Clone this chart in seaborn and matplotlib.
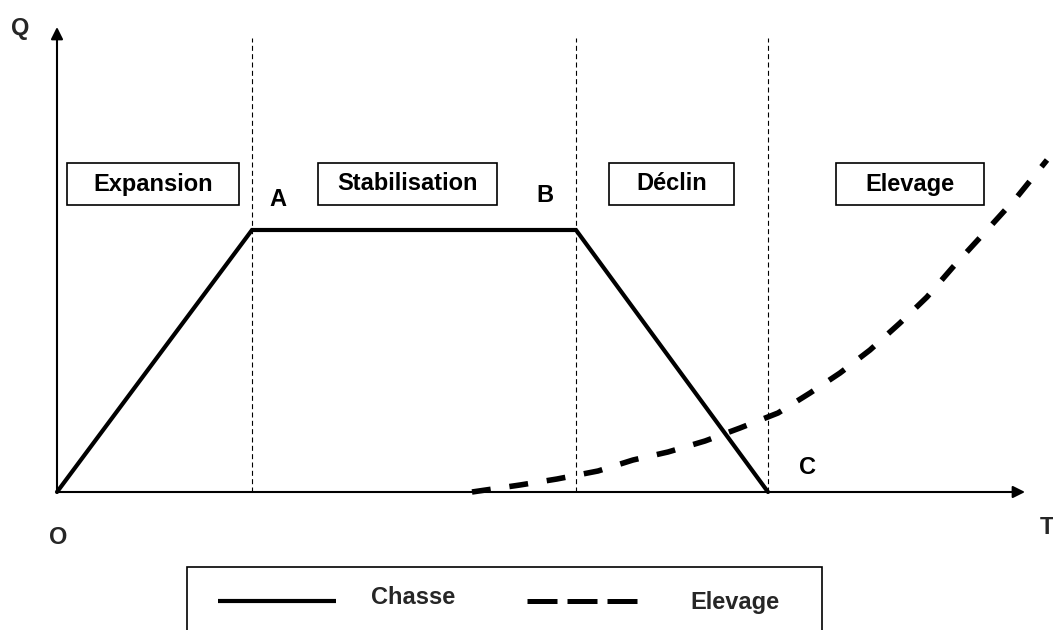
import matplotlib
matplotlib.use("Agg")
import matplotlib.pyplot as plt
from matplotlib.patches import Rectangle
import seaborn as sns
import pandas as pd

# ---------------- data ----------------
T_CHASSE = [0, 195, 519, 711]
Q_CHASSE = [0, 262, 262, 0]

T_ELEVAGE = [415, 463, 500, 541, 576, 611, 648, 683, 721, 753, 783, 813, 843, 870, 896, 930, 960, 990]
Q_ELEVAGE = [0, 7, 13, 21, 32, 40, 51, 64, 79, 99, 119, 142, 169, 195, 225, 262, 295, 332]

PHASE_NAMES = ["Expansion", "Stabilisation", "Déclin", "Elevage"]
PHASE_BOUNDS = [195, 519, 711]
POINT_LABELS = ["A", "B", "C"]
LEGEND_LABELS = ["Chasse", "Elevage"]
AXIS_LABELS = ["Q", "T", "O"]

# ---------------- style ----------------
sns.set_theme(style="white")
plt.rcParams["font.family"] = ["Liberation Sans", "DejaVu Sans"]
plt.rcParams["font.weight"] = "bold"

fig = plt.figure(figsize=(10.53, 6.3), dpi=100)
ax = fig.add_axes([0, 0, 1, 1])
ax.set_xlim(-57, 996)
ax.set_ylim(-138, 492)
ax.axis("off")

df_c = pd.DataFrame({"T": T_CHASSE, "Q": Q_CHASSE})
df_e = pd.DataFrame({"T": T_ELEVAGE, "Q": Q_ELEVAGE})

# phase dividers
for xb in PHASE_BOUNDS:
    ax.plot([xb, xb], [0, 454], color="black", lw=0.8, linestyle=(0, (4.5, 3)), zorder=1)

# axes arrows
arrow_kw = dict(arrowstyle="-|>", color="black", lw=1.5, mutation_scale=18, shrinkA=0, shrinkB=0)
ax.annotate("", xy=(968, 0), xytext=(0, 0), arrowprops=arrow_kw, zorder=2)
ax.annotate("", xy=(0, 465), xytext=(0, 0), arrowprops=arrow_kw, zorder=2)

# series
sns.lineplot(data=df_c, x="T", y="Q", ax=ax, color="black", lw=3.0,
             solid_joinstyle="miter", zorder=4, legend=False)
sns.lineplot(data=df_e, x="T", y="Q", ax=ax, color="black", lw=4.0,
             linestyle=(0, (3.4, 3.4)), zorder=4, legend=False)
ax.set_xlabel("")
ax.set_ylabel("")

# phase boxes
box_x = [(10, 182), (261, 440), (552, 677), (779, 927)]
for name, (x0, x1) in zip(PHASE_NAMES, box_x):
    ax.add_patch(Rectangle((x0, 287), x1 - x0, 42, fill=False, edgecolor="black", lw=1.2, zorder=3))
    ax.text((x0 + x1) / 2, 308, name, ha="center", va="center", fontsize=17,
            fontweight="bold", color="black", zorder=5)

# point labels
pt_pos = [(221, 293), (488, 296), (751, 24)]
for lab, (x, y) in zip(POINT_LABELS, pt_pos):
    ax.text(x, y, lab, ha="center", va="center", fontsize=17, fontweight="bold", color="black")

# axis labels
ax.text(-37, 464, AXIS_LABELS[0], ha="center", va="center", fontsize=17, fontweight="bold")
ax.text(990, -35, AXIS_LABELS[1], ha="center", va="center", fontsize=17, fontweight="bold")
ax.text(1, -45, AXIS_LABELS[2], ha="center", va="center", fontsize=17, fontweight="bold")

# legend box (extends past the bottom edge)
ax.add_patch(Rectangle((130, -160), 635, 85, fill=False, edgecolor="black", lw=1.2, zorder=3))
ax.plot([161, 279], [-109, -109], color="black", lw=3.0, solid_capstyle="butt")
ax.plot([470, 581], [-109, -109], color="black", lw=3.6, linestyle=(0, (6.0, 2.0)))
ax.text(356, -105, LEGEND_LABELS[0], ha="center", va="center", fontsize=17, fontweight="bold")
ax.text(678, -110, LEGEND_LABELS[1], ha="center", va="center", fontsize=17, fontweight="bold")

fig.savefig("out.png", dpi=100, facecolor="white")
